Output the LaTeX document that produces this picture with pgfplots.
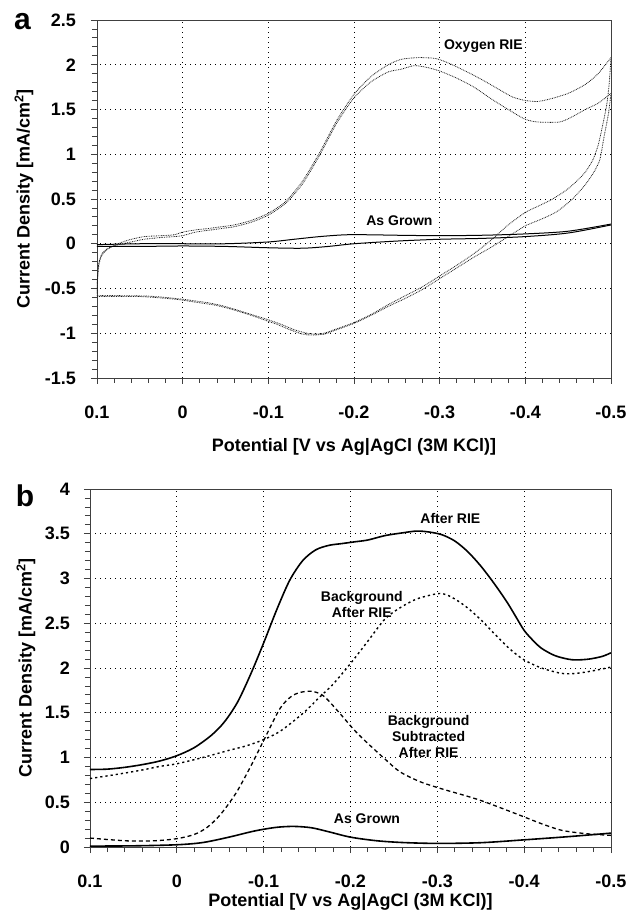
\documentclass[border=0pt]{standalone}
\usepackage{fontspec}
\setmainfont{Liberation Sans}
\usepackage{pgfplots}
\pgfplotsset{compat=1.18}

\pgfplotsset{cvstyle/.style={
  scale only axis, x dir=reverse, xmin=-0.5, xmax=0.1,
  xtick={0.1,0,-0.1,-0.2,-0.3,-0.4,-0.5},
  xticklabels={0.1,0,-0.1,-0.2,-0.3,-0.4,-0.5},
  minor x tick num=4, minor y tick num=4,
  tick align=outside, tick pos=left,
  major tick length=6pt, minor tick length=5pt,
  grid=major,
  major grid style={black, line width=0.8pt, dash pattern=on 0.8pt off 4.2pt},
  axis line style={black!75, line width=0.8pt},
  tick style={black!75, line width=0.8pt},
  tick label style={font=\fontsize{18}{20}\selectfont\bfseries, inner sep=0pt},
  xticklabel style={anchor=center, yshift=-28pt},
  ylabel={Current Density [mA/cm\textsuperscript{2}]},
  xlabel={Potential [V vs Ag|AgCl (3M KCl)]},
}}
\tikzset{lbl/.style={font=\fontsize{14}{16}\selectfont\bfseries, align=center, inner sep=1pt},
  axlbl/.style={font=\fontsize{18}{20}\selectfont\bfseries, anchor=center, inner sep=0pt},
  panel/.style={font=\fontsize{30}{32}\selectfont\bfseries}}

\begin{document}
\begin{tikzpicture}
\useasboundingbox (0,0) rectangle (629pt,911pt);

% ---------------- panel a
\begin{axis}[cvstyle, at={(97pt,533pt)}, anchor=south west,
  width=514pt, height=358pt, ymin=-1.5, ymax=2.5,
  ytick={-1.5,-1,-0.5,0,0.5,1,1.5,2,2.5},
  yticklabels={-1.5,-1,-0.5,0,0.5,1,1.5,2,2.5},
  yticklabel style={anchor=east, xshift=-15pt},
  every axis x label/.style={at={(rel axis cs:0.5,0)}, axlbl, yshift=-69pt},
  every axis y label/.style={at={(rel axis cs:0,0.5)}, axlbl, xshift=-73pt, rotate=90}]
\tikzset{oxy/.style={black!90, line width=0.8pt, dash pattern=on 0.8pt off 0.9pt, smooth, tension=0.4}}
% Oxygen RIE, cycle 1
\addplot[oxy] coordinates {(0.1,-0.58) (0.0995,-0.42) (0.098,-0.25) (0.095,-0.14) (0.089,-0.07) (0.08,-0.02) (0.07,0.02) (0.06,0.05) (0.045,0.08) (0.025,0.09) (0.01,0.10) (0.0,0.13) (-0.015,0.155) (-0.03,0.17) (-0.045,0.19) (-0.06,0.21) (-0.08,0.26) (-0.10,0.34) (-0.12,0.47) (-0.14,0.70) (-0.16,1.02) (-0.18,1.38) (-0.20,1.67) (-0.22,1.87) (-0.24,2.0) (-0.255,2.06) (-0.275,2.08) (-0.295,2.07) (-0.31,2.02) (-0.33,1.93) (-0.35,1.83) (-0.37,1.72) (-0.385,1.64) (-0.40,1.60) (-0.415,1.59) (-0.43,1.62) (-0.45,1.68) (-0.47,1.78) (-0.485,1.90) (-0.50,2.08)};
\addplot[oxy] coordinates {(-0.50,2.08) (-0.498,1.8) (-0.495,1.55) (-0.49,1.31) (-0.485,1.1) (-0.479,0.94) (-0.47,0.80) (-0.46,0.70) (-0.448,0.60) (-0.43,0.49) (-0.415,0.42) (-0.40,0.35) (-0.38,0.21) (-0.36,0.04) (-0.34,-0.11) (-0.32,-0.24) (-0.30,-0.36) (-0.28,-0.48) (-0.26,-0.58) (-0.24,-0.68) (-0.22,-0.79) (-0.20,-0.88) (-0.18,-0.95) (-0.165,-1.0) (-0.155,-1.01) (-0.145,-1.0) (-0.13,-0.96) (-0.115,-0.90) (-0.10,-0.85) (-0.08,-0.79) (-0.06,-0.73) (-0.045,-0.69) (-0.03,-0.66) (-0.015,-0.64) (0.0,-0.62) (0.02,-0.60) (0.04,-0.585) (0.07,-0.58) (0.1,-0.58)};
% Oxygen RIE, cycle 2
\addplot[oxy] coordinates {(0.1,-0.55) (0.0995,-0.40) (0.098,-0.22) (0.094,-0.11) (0.087,-0.05) (0.075,-0.01) (0.06,0.02) (0.045,0.05) (0.025,0.07) (0.01,0.08) (0.0,0.09) (-0.015,0.13) (-0.03,0.15) (-0.045,0.17) (-0.06,0.19) (-0.08,0.24) (-0.10,0.32) (-0.12,0.45) (-0.14,0.67) (-0.16,0.99) (-0.18,1.35) (-0.20,1.63) (-0.22,1.81) (-0.24,1.92) (-0.255,1.95) (-0.27,1.99) (-0.285,1.97) (-0.30,1.93) (-0.32,1.85) (-0.34,1.75) (-0.36,1.62) (-0.38,1.50) (-0.40,1.39) (-0.415,1.36) (-0.44,1.36) (-0.455,1.42) (-0.47,1.50) (-0.485,1.57) (-0.50,1.68)};
\addplot[oxy] coordinates {(-0.50,1.68) (-0.497,1.45) (-0.492,1.2) (-0.487,0.94) (-0.48,0.80) (-0.47,0.66) (-0.455,0.50) (-0.437,0.36) (-0.42,0.28) (-0.40,0.20) (-0.38,0.08) (-0.36,-0.04) (-0.34,-0.15) (-0.32,-0.27) (-0.30,-0.39) (-0.28,-0.51) (-0.26,-0.61) (-0.24,-0.70) (-0.22,-0.80) (-0.20,-0.89) (-0.18,-0.96) (-0.165,-1.01) (-0.15,-1.02) (-0.14,-1.01) (-0.125,-0.96) (-0.11,-0.90) (-0.095,-0.85) (-0.08,-0.80) (-0.06,-0.74) (-0.04,-0.69) (-0.02,-0.66) (0.0,-0.63) (0.02,-0.61) (0.05,-0.59) (0.1,-0.59)};
% As grown
\addplot[black, line width=1pt, smooth] coordinates {(0.1,-0.01) (0.05,0.0) (0,0.0) (-0.05,0.0) (-0.1,0.02) (-0.13,0.05) (-0.16,0.08) (-0.19,0.10) (-0.22,0.10) (-0.25,0.095) (-0.3,0.09) (-0.35,0.095) (-0.4,0.11) (-0.45,0.14) (-0.5,0.22)};
\addplot[black, line width=1pt, smooth] coordinates {(-0.5,0.21) (-0.45,0.12) (-0.4,0.08) (-0.35,0.06) (-0.3,0.05) (-0.25,0.03) (-0.2,0.0) (-0.17,-0.03) (-0.14,-0.05) (-0.1,-0.045) (-0.05,-0.03) (0,-0.025) (0.05,-0.03) (0.1,-0.03)};
\node[lbl] at (axis cs:-0.351,2.21) {Oxygen RIE};
\node[lbl] at (axis cs:-0.253,0.26) {As Grown};
\end{axis}
\node[panel] at (22.5pt,889pt) {a};

% ---------------- panel b
\begin{axis}[cvstyle, at={(90pt,64pt)}, anchor=south west,
  width=521pt, height=358pt, ymin=0, ymax=4,
  ytick={0,0.5,1,1.5,2,2.5,3,3.5,4},
  yticklabels={0,0.5,1,1.5,2,2.5,3,3.5,4},
  yticklabel style={anchor=east, xshift=-14pt},
  every axis x label/.style={at={(rel axis cs:0.5,0)}, axlbl, yshift=-55pt},
  every axis y label/.style={at={(rel axis cs:0,0.5)}, axlbl, xshift=-64pt, rotate=90}]
\addplot[black, line width=1.6pt, smooth] coordinates {(0.1,0.866) (0.08,0.87) (0.06,0.89) (0.04,0.92) (0.02,0.96) (0,1.02) (-0.02,1.11) (-0.04,1.25) (-0.055,1.40) (-0.07,1.62) (-0.085,1.93) (-0.1,2.28) (-0.115,2.65) (-0.13,2.98) (-0.145,3.2) (-0.16,3.32) (-0.175,3.37) (-0.19,3.39) (-0.205,3.41) (-0.22,3.43) (-0.24,3.48) (-0.26,3.51) (-0.276,3.53) (-0.29,3.52) (-0.305,3.49) (-0.32,3.42) (-0.335,3.30) (-0.35,3.14) (-0.365,2.95) (-0.38,2.74) (-0.39,2.58) (-0.40,2.42) (-0.41,2.31) (-0.42,2.22) (-0.435,2.14) (-0.45,2.10) (-0.46,2.09) (-0.475,2.10) (-0.49,2.13) (-0.5,2.17)};
\addplot[black, line width=1.4pt, dash pattern=on 2.2pt off 3pt, smooth] coordinates {(0.1,0.765) (0.07,0.81) (0.04,0.86) (0.02,0.90) (0,0.93) (-0.03,1.0) (-0.06,1.08) (-0.08,1.13) (-0.1,1.2) (-0.12,1.30) (-0.146,1.50) (-0.165,1.68) (-0.18,1.82) (-0.2,2.05) (-0.22,2.30) (-0.239,2.54) (-0.255,2.66) (-0.276,2.77) (-0.3,2.83) (-0.31,2.82) (-0.322,2.76) (-0.335,2.67) (-0.35,2.54) (-0.37,2.34) (-0.385,2.20) (-0.40,2.09) (-0.42,2.00) (-0.443,1.94) (-0.46,1.94) (-0.48,1.97) (-0.5,2.01)};
\addplot[black, line width=1.3pt, dash pattern=on 4pt off 3pt, smooth] coordinates {(0.1,0.10) (0.075,0.08) (0.053,0.067) (0.025,0.07) (0,0.093) (-0.02,0.14) (-0.035,0.22) (-0.05,0.36) (-0.068,0.60) (-0.085,0.90) (-0.1,1.19) (-0.119,1.55) (-0.133,1.69) (-0.146,1.735) (-0.158,1.735) (-0.17,1.68) (-0.188,1.49) (-0.205,1.30) (-0.22,1.157) (-0.24,0.98) (-0.257,0.84) (-0.28,0.73) (-0.304,0.653) (-0.33,0.58) (-0.35,0.52) (-0.375,0.43) (-0.4,0.336) (-0.42,0.26) (-0.443,0.187) (-0.47,0.15) (-0.5,0.13)};
\addplot[black, line width=1.6pt, smooth] coordinates {(0.1,0.01) (0.05,0.013) (0,0.025) (-0.03,0.05) (-0.06,0.11) (-0.09,0.18) (-0.115,0.22) (-0.135,0.23) (-0.155,0.215) (-0.175,0.17) (-0.2,0.11) (-0.23,0.07) (-0.26,0.05) (-0.3,0.04) (-0.35,0.048) (-0.4,0.08) (-0.45,0.115) (-0.5,0.155)};
\node[lbl] at (axis cs:-0.315,3.675) {After RIE};
\node[lbl] at (axis cs:-0.213,2.705) {Background\\After RIE};
\node[lbl] at (axis cs:-0.29,1.23) {Background\\Subtracted\\After RIE};
\node[lbl] at (axis cs:-0.219,0.317) {As Grown};
\end{axis}
\node[panel] at (25pt,415pt) {b};
\end{tikzpicture}
\end{document}
